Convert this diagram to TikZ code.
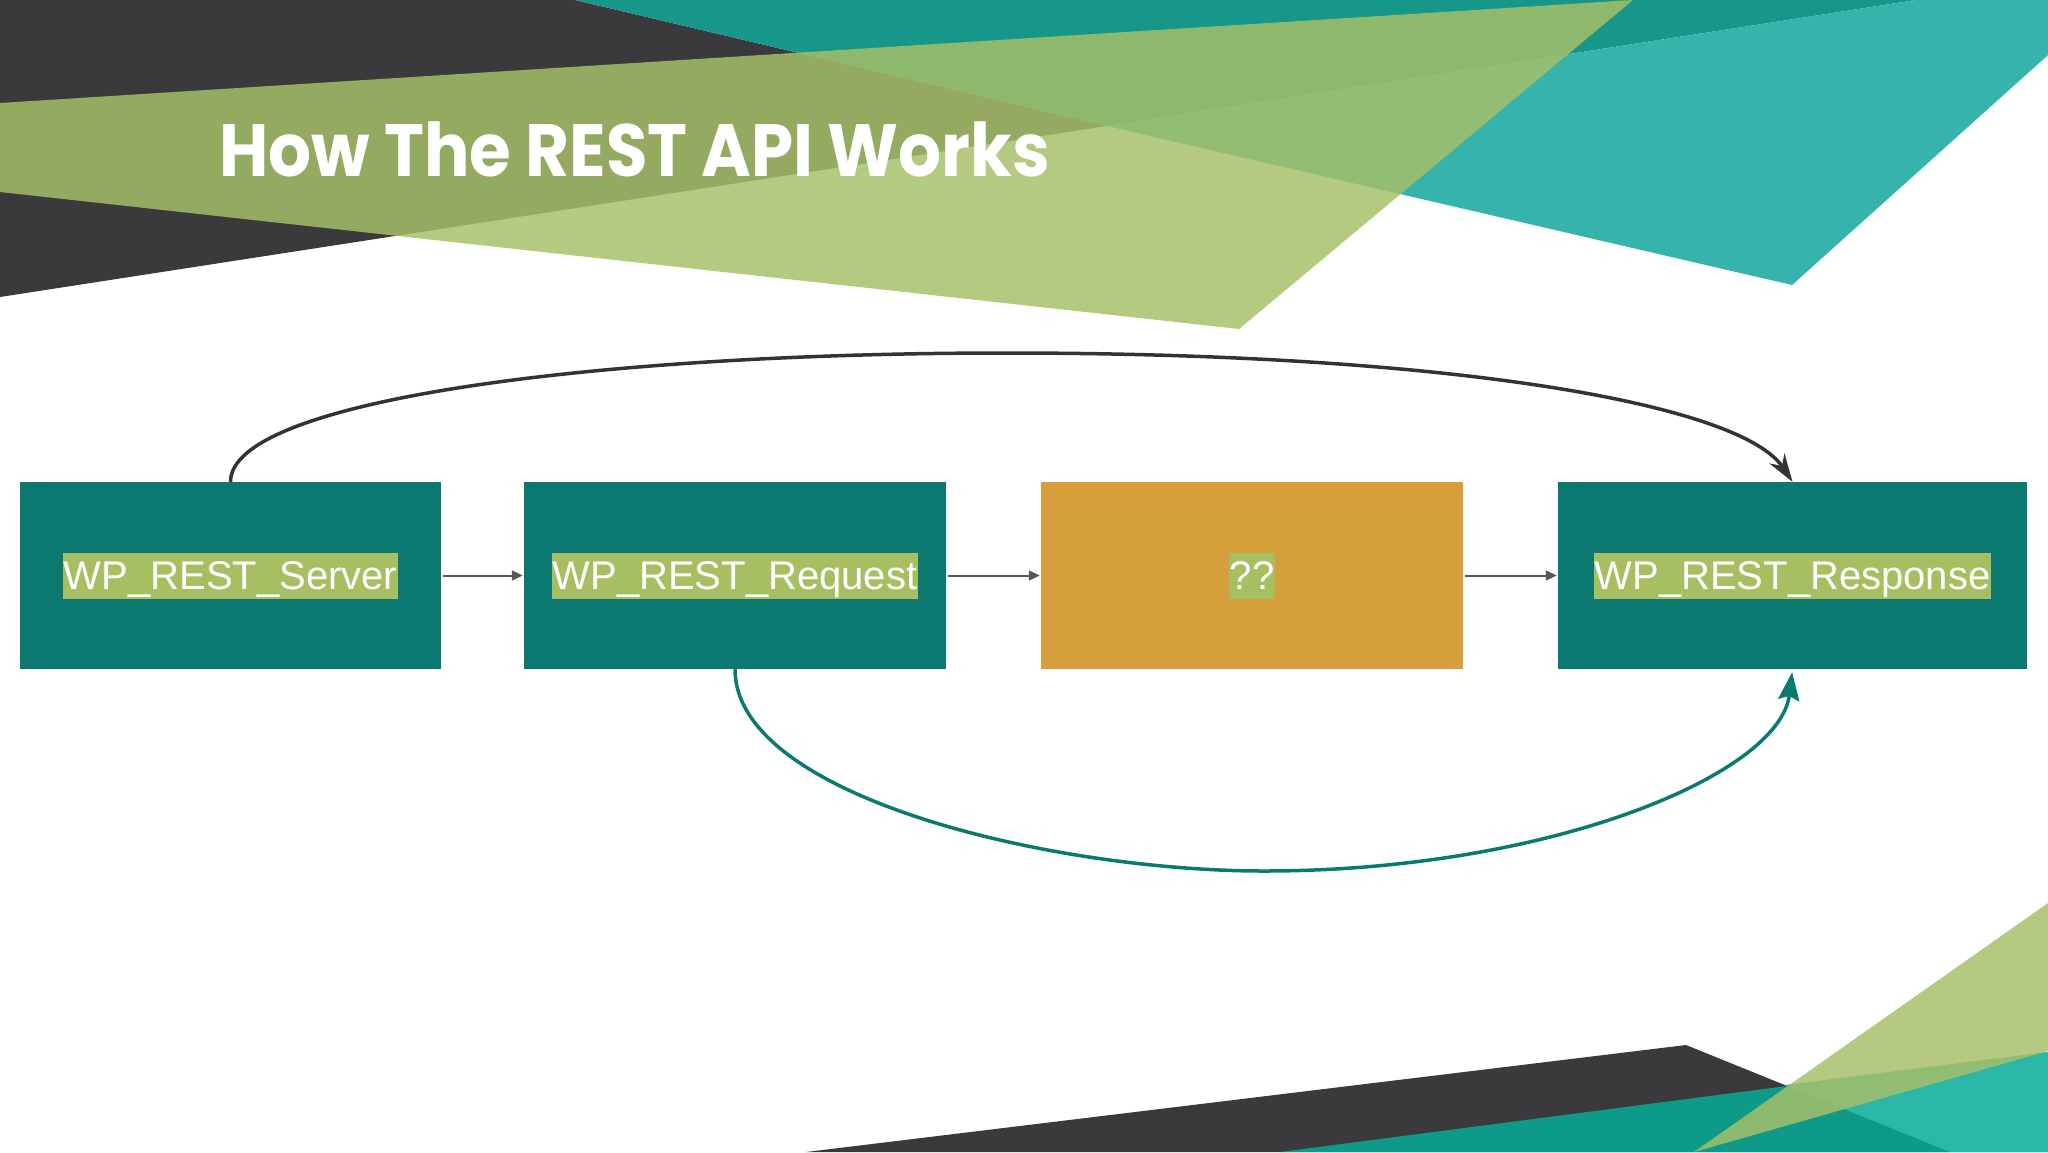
\documentclass[tikz,border=0pt]{standalone}
\usepackage{fontspec}
\setmainfont{Liberation Sans}
\newfontfamily\titlefont{Poppins}
\usetikzlibrary{arrows.meta}
\definecolor{darkbg}{RGB}{58,57,60}
\definecolor{tealA}{RGB}{23,151,138}
\definecolor{tealB}{RGB}{54,179,170}
\definecolor{greenT}{RGB}{165,192,104}
\definecolor{tealC}{RGB}{14,154,136}
\definecolor{tealD}{RGB}{41,184,168}
\definecolor{boxteal}{RGB}{11,121,111}
\definecolor{boxorange}{RGB}{214,159,59}
\definecolor{hl}{RGB}{165,191,97}
\definecolor{curvedark}{RGB}{51,50,54}
\definecolor{curveteal}{RGB}{11,122,110}
\definecolor{arrowgray}{RGB}{88,88,90}
\newcommand\hltext[1]{{\setlength\fboxsep{0pt}\colorbox{hl}{\rule[-9pt]{0pt}{46pt}\hspace{1pt}#1\hspace{1pt}}}}
\begin{document}
\begin{tikzpicture}[x=1pt,y=-1pt,
  box/.style={minimum height=187pt, inner sep=0pt, text=white, font=\fontsize{40}{46}\selectfont},
  tealbox/.style={box, fill=boxteal},
  orangebox/.style={box, fill=boxorange},
  flow/.style={draw=arrowgray, line width=2pt, -{Triangle[length=11pt,width=10pt]}, shorten >=1pt, shorten <=2pt},
  topcurve/.style={draw=curvedark, line width=3.5pt, -{Stealth[length=28pt,width=18pt,inset=9pt]}},
  botcurve/.style={draw=curveteal, line width=3.5pt, -{Stealth[length=28pt,width=21pt,inset=4pt]}, shorten >=3pt},
  greenpoly/.style={fill=greenT, fill opacity=0.84},
  titlestyle/.style={text=white, inner sep=0pt, font=\titlefont\bfseries\fontsize{74}{80}\selectfont}
]
\useasboundingbox (0,0) rectangle (2048,1152);
\fill[white] (0,0) rectangle (2048,1152);
% top decoration
\fill[darkbg] (0,0) -- (575,0) -- (1107,126) -- (0,297) -- cycle;
\fill[tealA] (575,0) -- (1916,0) -- (1107,126) -- cycle;
\fill[tealB] (1107,126) -- (1916,0) -- (2048,0) -- (2048,55) -- (1792,285) -- cycle;
\fill[greenpoly] (0,103) -- (1633,0) -- (1239,329) -- (0,192) -- cycle;
% bottom decoration
\fill[darkbg] (806,1152) -- (1686,1045) -- (1950,1152) -- cycle;
\fill[tealC] (1280,1152) -- (2048,1052) -- (2048,1152) -- cycle;
\fill[tealD] (1785,1085) -- (2048,1052) -- (2048,1152) -- (1950,1152) -- cycle;
\fill[greenpoly] (2048,903) -- (1694,1152) -- (2048,1051) -- cycle;
% title
\node[titlestyle, anchor=base west] (title) at (219,176) {\scalebox{0.912}[1]{How The REST API Works}};
% boxes
\node[tealbox, minimum width=421pt] (b1) at (230.5,575.5) {\hltext{WP\_REST\_Server}};
\node[tealbox, minimum width=422pt] (b2) at (735,575.5) {\hltext{WP\_REST\_Request}};
\node[orangebox, minimum width=422pt] (b3) at (1252,575.5) {\hltext{??}};
\node[tealbox, minimum width=469pt] (b4) at (1792.5,575.5) {\hltext{WP\_REST\_Response}};
% flow arrows
\draw[flow] (b1.east) -- (b2.west);
\draw[flow] (b2.east) -- (b3.west);
\draw[flow] (b3.east) -- (b4.west);
% curves
\coordinate (topmid) at (1006,353);
\coordinate (botmid) at (1264,871);
\draw[topcurve] (b1.north) .. controls +(0,-82) and +(-406,0) .. (topmid) .. controls +(444,0) and +(-52,-78) .. (b4.north);
\draw[botcurve] (b2.south) .. controls +(0,127) and +(-214,0) .. (botmid) .. controls +(286,0) and +(-13,105) .. (b4.south);
\end{tikzpicture}
\end{document}
